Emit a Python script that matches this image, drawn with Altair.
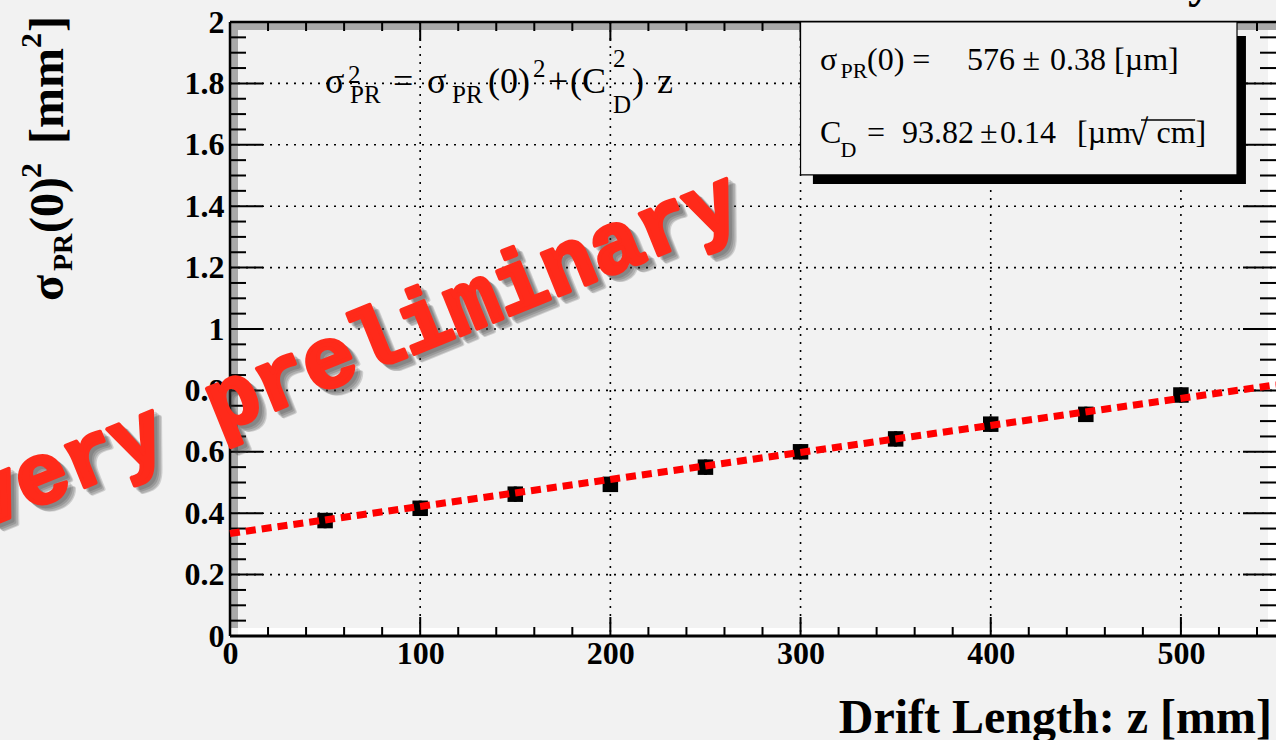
import altair as alt
import pandas as pd

# ---------------- data ----------------
Z = [50, 100, 150, 200, 250, 300, 350, 400, 450, 500]
V = [0.376, 0.416, 0.462, 0.494, 0.550, 0.600, 0.642, 0.690, 0.722, 0.785]
E = [0.025, 0.025, 0.025, 0.025, 0.025, 0.025, 0.025, 0.025, 0.025, 0.025]
FIT_Z = [0, 550]
FIT_V = [0.334, 0.818]

X_TICKS = [0, 100, 200, 300, 400, 500]
Y_TICKS = [0, 0.2, 0.4, 0.6, 0.8, 1, 1.2, 1.4, 1.6, 1.8, 2]
X_MINOR = [v for v in range(20, 550, 20) if v % 100]
Y_MINOR = [round(i * 0.05, 2) for i in range(1, 40) if i % 4]
X_GRID = [100, 200, 300, 400, 500]
Y_GRID = [0.2, 0.4, 0.6, 0.8, 1, 1.2, 1.4, 1.6, 1.8]

W, H = 1046, 614
SERIF = "Liberation Serif"
BG = "#f2f2f2"

xs = alt.Scale(domain=[0, 550], nice=False, zero=False)
ys = alt.Scale(domain=[0, 2], nice=False, zero=False)

lab = dict(labelFont=SERIF, labelFontWeight="bold", labelFontSize=32,
           labelColor="black", domain=False, ticks=False, grid=False,
           labelFlush=False, labelOverlap=False, title=None)
AX_X = alt.Axis(values=X_TICKS, labelPadding=2, format="d", **lab)
AX_Y = alt.Axis(values=Y_TICKS, labelPadding=6,
                labelExpr="format(datum.value, '~g')", **lab)


def X(field="z"):
    return alt.X(f"{field}:Q", scale=xs, axis=AX_X, title=None)


def Y(field="v"):
    return alt.Y(f"{field}:Q", scale=ys, axis=AX_Y, title=None)


one = pd.DataFrame({"k": [0]})


def at(z, v):
    return pd.DataFrame({"z": [z], "v": [v]})


def txt(anchor, text, dx=0, dy=0, size=32, weight="normal", font=SERIF,
        angle=0, color="black", align="left", opacity=1.0, stroke_w=0):
    kw = dict(text=text, dx=dx, dy=dy, fontSize=size, fontWeight=weight,
              font=font, color=color, align=align, baseline="alphabetic",
              opacity=opacity)
    if angle:
        kw["angle"] = angle
    if stroke_w:
        kw.update(stroke=color, strokeWidth=stroke_w, strokeJoin="round")
    return alt.Chart(anchor).mark_text(**kw).encode(x=X(), y=Y())


def prect(x0, x1, y0, y1, color):
    return alt.Chart(one).mark_rect(color=color).encode(
        x=alt.value(x0), x2=alt.value(x1), y=alt.value(y0), y2=alt.value(y1))


layers = []

pts = pd.DataFrame({"z": Z, "v": V, "e": E})
pts["lo"] = pts["v"] - pts["e"]
pts["hi"] = pts["v"] + pts["e"]

# ROOT frame bevel
layers += [
    prect(0, 8, 0, H - 8, "#a9a9a9"),
    prect(0, W, 0, 8, "#a9a9a9"),
    prect(8, W, H - 8, H, "#ffffff"),
    prect(W - 8, W, 8, H, "#ffffff"),
]

# dotted grid
grid_style = dict(color="black", strokeWidth=1.6, strokeDash=[2, 6])
layers.append(alt.Chart(pd.DataFrame({"v": Y_GRID})).mark_rule(**grid_style).encode(
    y=Y(), x=alt.value(0), x2=alt.value(W)))
layers.append(alt.Chart(pd.DataFrame({"z": X_GRID})).mark_rule(**grid_style).encode(
    x=X(), y=alt.value(0), y2=alt.value(H)))

# ticks on all four sides, pointing inwards
tick = dict(color="black", strokeWidth=2)
ymaj = pd.DataFrame({"v": Y_TICKS})
ymin = pd.DataFrame({"v": Y_MINOR})
xmaj = pd.DataFrame({"z": X_TICKS})
xmin = pd.DataFrame({"z": X_MINOR})
layers += [
    alt.Chart(ymaj).mark_rule(**tick).encode(y=Y(), x=alt.value(0), x2=alt.value(33)),
    alt.Chart(ymin).mark_rule(**tick).encode(y=Y(), x=alt.value(0), x2=alt.value(16)),
    alt.Chart(ymaj).mark_rule(**tick).encode(y=Y(), x=alt.value(W), x2=alt.value(W - 33)),
    alt.Chart(ymin).mark_rule(**tick).encode(y=Y(), x=alt.value(W), x2=alt.value(W - 16)),
    alt.Chart(xmaj).mark_rule(**tick).encode(x=X(), y=alt.value(H), y2=alt.value(H - 19)),
    alt.Chart(xmin).mark_rule(**tick).encode(x=X(), y=alt.value(H), y2=alt.value(H - 9)),
    alt.Chart(xmaj).mark_rule(**tick).encode(x=X(), y=alt.value(0), y2=alt.value(19)),
    alt.Chart(xmin).mark_rule(**tick).encode(x=X(), y=alt.value(0), y2=alt.value(9)),
]

# frame lines
layers += [
    alt.Chart(one).mark_rule(color="black", strokeWidth=2.5).encode(
        x=alt.value(0), y=alt.value(0), y2=alt.value(H)),
    alt.Chart(one).mark_rule(color="black", strokeWidth=2.5).encode(
        y=alt.value(0), x=alt.value(0), x2=alt.value(W)),
    alt.Chart(one).mark_rule(color="black", strokeWidth=3).encode(
        y=alt.value(H), x=alt.value(0), x2=alt.value(W)),
]

# error bars and markers
layers.append(alt.Chart(pts).mark_rule(color="black", strokeWidth=3).encode(
    x=X(), y=Y("lo"), y2="hi:Q"))
layers.append(alt.Chart(pts).mark_square(size=240, color="black", opacity=1).encode(
    x=X(), y=Y()))

# fit line
fit = pd.DataFrame({"z": FIT_Z, "v": FIT_V})
layers.append(alt.Chart(fit).mark_line(color="#ff0000", strokeWidth=7,
                                       strokeDash=[10, 6]).encode(x=X(), y=Y()))

# stats box
layers.append(alt.Chart(pd.DataFrame({"z": [306.5], "z2": [534.2], "v": [1.954], "v2": [1.472]}))
              .mark_rect(color="black").encode(x=X(), x2="z2:Q", y=Y(), y2="v2:Q"))
layers.append(alt.Chart(pd.DataFrame({"z": [300], "z2": [529.5], "v": [2.0], "v2": [1.502]}))
              .mark_rect(fill=BG, stroke="black", strokeWidth=1.2)
              .encode(x=X(), x2="z2:Q", y=Y(), y2="v2:Q"))
LA = at(300, 2.0)
layers += [
    txt(LA, "σ", 19.5, 48),
    txt(LA, "PR", 40, 56, size=22),
    txt(LA, "(0) =", 66.5, 48),
    txt(LA, "576", 166.5, 48),
    txt(LA, "±", 222, 48),
    txt(LA, "0.38 [µm]", 249.5, 48),
    txt(LA, "C", 19.5, 121),
    txt(LA, "D", 40, 135, size=22),
    txt(LA, "=", 66.5, 121),
    txt(LA, "93.82", 101.5, 121),
    txt(LA, "±", 179.5, 121),
    txt(LA, "0.14", 199.5, 121),
    txt(LA, "[µm", 276.5, 121),
    txt(LA, "√", 328, 123, size=36),
    txt(LA, "cm", 356, 121),
    txt(LA, "]", 395, 121),
]
layers.append(alt.Chart(pd.DataFrame({"z": [479.0], "z2": [507.5], "v": [1.681]}))
              .mark_rule(color="black", strokeWidth=1.5).encode(x=X(), x2="z2:Q", y=Y()))

# fit formula
FA = at(50, 1.77)
layers += [
    txt(FA, "σ", 0, 0, size=36),
    txt(FA, "2", 23, -10, size=25),
    txt(FA, "PR", 25, 10, size=25),
    txt(FA, "=", 68, 0, size=36),
    txt(FA, "σ", 102, 0, size=36),
    txt(FA, "PR", 127, 10, size=25),
    txt(FA, "(0)", 163, 0, size=36),
    txt(FA, "2", 208, -16, size=25),
    txt(FA, "+", 223, 0, size=36),
    txt(FA, "(C", 245, 0, size=36),
    txt(FA, "2", 288, -26, size=25),
    txt(FA, "D", 288, 20, size=25),
    txt(FA, ")", 307, 0, size=36),
    txt(FA, "z", 332, 0, size=36),
]

# axis titles
YA = at(-87.8, 1.091)
layers += [
    txt(YA, "σ", 0, 0, size=48, weight="bold", angle=270),
    txt(YA, "PR", 30, 9, size=28, weight="bold", angle=270),
    txt(YA, "(0)", 68, 0, size=48, weight="bold", angle=270),
    txt(YA, "2", 123, -22, size=30, weight="bold", angle=270),
    txt(YA, "[mm", 157, 0, size=48, weight="bold", angle=270),
    txt(YA, "2", 253, -22, size=30, weight="bold", angle=270),
    txt(YA, "]", 269, 0, size=48, weight="bold", angle=270),
]
layers.append(txt(at(547.9, -0.316), "Drift Length: z [mm]", size=48,
                  weight="bold", align="right"))
layers.append(txt(at(503.7, 2.081), "y", size=48, weight="bold"))

# watermark
WA = at(69.4, 0.850)
WM = "very preliminary"
WFONT = "Liberation Mono"
for ddx, ddy in [(2, 4), (3, 6), (4, 8), (5, 9)]:
    layers.append(txt(WA, WM, ddx, ddy, size=86, weight="bold", font=WFONT,
                      angle=338, color="#333333", align="center", opacity=0.18,
                      stroke_w=4))
layers.append(txt(WA, WM, 0, 0, size=86, weight="bold", font=WFONT,
                  angle=338, color="#ff2a1a", align="center", stroke_w=4))

chart = alt.layer(*layers).properties(
    width=W, height=H,
    autosize=alt.AutoSizeParams(type="none"),
    padding={"left": 230, "top": 22, "right": 0, "bottom": 104},
    background=BG,
).configure_view(strokeWidth=0, fill=BG)

chart.save("out.html", embed_options={"renderer": "svg", "actions": False})
